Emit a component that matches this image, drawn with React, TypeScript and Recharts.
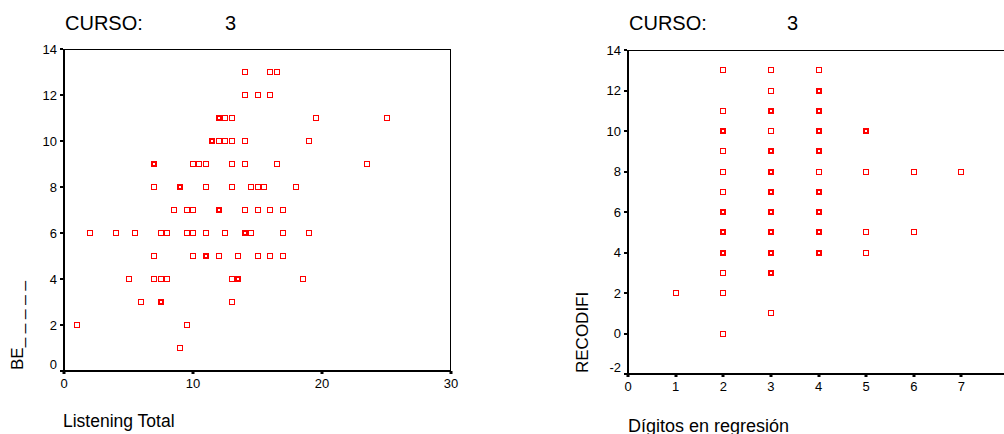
import { Scatter, ScatterChart, XAxis, YAxis } from "recharts"

// left panel: Listening Total vs BE (repeated pairs = overlapping cases)
const listeningTotal = [
  14, 16, 16.5,
  14, 15, 16,
  12, 12, 12.5, 13, 19.5, 25,
  11.5, 11.5, 12, 12.5, 13, 14, 19,
  7, 7, 10, 10.5, 11, 13, 14, 16.5, 23.5,
  7, 9, 9, 11, 13, 14.5, 15, 15.5, 18,
  8.5, 9.5, 10, 12, 12, 14, 15, 16, 17,
  2, 4, 5.5, 7.5, 8, 9.5, 10, 11, 12.5, 14, 14, 14.5, 17, 19,
  7, 10, 11, 11, 12, 13.5, 15, 16, 17,
  5, 7, 7.5, 8, 13, 13.5, 13.5, 18.5,
  6, 7.5, 7.5, 13,
  1, 9.5,
  9,
]
const beScore = [
  13, 13, 13,
  12, 12, 12,
  11, 11, 11, 11, 11, 11,
  10, 10, 10, 10, 10, 10, 10,
  9, 9, 9, 9, 9, 9, 9, 9, 9,
  8, 8, 8, 8, 8, 8, 8, 8, 8,
  7, 7, 7, 7, 7, 7, 7, 7, 7,
  6, 6, 6, 6, 6, 6, 6, 6, 6, 6, 6, 6, 6, 6,
  5, 5, 5, 5, 5, 5, 5, 5, 5,
  4, 4, 4, 4, 4, 4, 4, 4,
  3, 3, 3, 3,
  2, 2,
  1,
]

// right panel: Dígitos en regresión vs RECODIFI
const digitos = [
  1,
  2, 2, 2, 2, 2, 2, 2, 2, 2, 2, 2, 2, 2, 2, 2, 2,
  3, 3, 3, 3, 3, 3, 3, 3, 3, 3, 3, 3, 3, 3, 3, 3, 3, 3, 3, 3,
  4, 4, 4, 4, 4, 4, 4, 4, 4, 4, 4, 4, 4, 4, 4, 4, 4, 4,
  5, 5, 5, 5, 5,
  6, 6,
  7,
]
const recodifi = [
  2,
  13, 11, 10, 10, 9, 8, 7, 6, 6, 5, 5, 4, 4, 3, 2, 0,
  13, 12, 11, 11, 10, 9, 9, 8, 8, 7, 7, 6, 6, 5, 5, 4, 4, 3, 3, 1,
  13, 12, 12, 11, 11, 10, 10, 9, 9, 8, 7, 7, 6, 6, 5, 5, 4, 4,
  10, 10, 8, 5, 4,
  8, 5,
  8,
]

const leftXTicks = [0, 10, 20, 30]
const leftYTicks = [0, 2, 4, 6, 8, 10, 12, 14]
const rightXTicks = [0, 1, 2, 3, 4, 5, 6, 7, 8]
const rightYTicks = [-2, 0, 2, 4, 6, 8, 10, 12, 14]

const FONT = "'Liberation Sans', Arial, sans-serif"
const TICK_SIZE = 3
const X_MARGIN = 5
const Y_MARGIN = 4

function toPoints(xs: number[], ys: number[]) {
  const map = new Map<string, { x: number; y: number; n: number }>()
  xs.forEach((x, i) => {
    const key = x + "|" + ys[i]
    const p = map.get(key)
    if (p) p.n += 1
    else map.set(key, { x, y: ys[i], n: 1 })
  })
  return Array.from(map.values())
}

const leftPoints = toPoints(listeningTotal, beScore)
const rightPoints = toPoints(digitos, recodifi)

function Square(props: any) {
  const { cx, cy, payload } = props
  if (cx == null || cy == null) return null
  const x = Math.round(cx)
  const y = Math.round(cy)
  if (payload && payload.n > 1) {
    return <rect x={x - 2} y={y - 2} width={4} height={4} fill="#fff" stroke="#ff0000" strokeWidth={2} />
  }
  return <rect x={x - 2.5} y={y - 2.5} width={5} height={5} fill="#fff" stroke="#ff0000" strokeWidth={1} />
}

// tick label + small square tick mark (label position comes from the axis)
function XTick(props: any) {
  const { x, y, payload } = props
  const axisY = y - TICK_SIZE - X_MARGIN
  return (
    <g>
      <rect x={Math.round(x) - 1.5} y={axisY} width={3} height={3} fill="#000" />
      <text x={x} y={y} dy="0.71em" textAnchor="middle" fill="#000" fontSize={13} fontFamily={FONT}>
        {payload.value}
      </text>
    </g>
  )
}

function YTick(props: any) {
  const { x, y, payload, min } = props
  const axisX = x + TICK_SIZE + Y_MARGIN
  const shift = payload.value === min ? -7 : 0
  return (
    <g>
      <rect x={axisX - 4} y={Math.round(y) - 1} width={3} height={2} fill="#000" />
      <text x={x} y={y + shift} dy="0.355em" textAnchor="end" fill="#000" fontSize={13} fontFamily={FONT}>
        {payload.value}
      </text>
    </g>
  )
}

function Panel({ points, xTicks, yTicks, xMax, yMin, yMax, margin }: any) {
  return (
    <ScatterChart width={480} height={434} margin={margin}>
      <XAxis
        type="number"
        dataKey="x"
        domain={[0, xMax]}
        ticks={xTicks}
        interval={0}
        allowDataOverflow
        height={30}
        tickSize={TICK_SIZE}
        tickMargin={X_MARGIN}
        axisLine={false}
        tickLine={{ stroke: "none" }}
        tick={<XTick />}
      />
      <YAxis
        type="number"
        dataKey="y"
        domain={[yMin, yMax]}
        ticks={yTicks}
        interval={0}
        allowDataOverflow
        width={40}
        tickSize={TICK_SIZE}
        tickMargin={Y_MARGIN}
        axisLine={false}
        tickLine={{ stroke: "none" }}
        tick={<YTick min={yMin} />}
      />
      <Scatter data={points} isAnimationActive={false} shape={(p: any) => <Square {...p} />} />
    </ScatterChart>
  )
}

const text = (left: number, top: number, size: number, extra: any = {}) => ({
  position: "absolute" as const,
  left,
  top,
  fontSize: size,
  lineHeight: `${size}px`,
  fontFamily: FONT,
  color: "#000",
  whiteSpace: "nowrap" as const,
  ...extra,
})

const rotated = { transform: "rotate(-90deg)", transformOrigin: "0 0" }

const frame = (left: number, top: number, width: number, height: number) => ({
  position: "absolute" as const,
  left,
  top,
  width,
  height,
  boxSizing: "border-box" as const,
  borderLeft: "2px solid #000",
  borderBottom: "2px solid #000",
  borderTop: "1px solid #000",
  borderRight: "1px solid #000",
  pointerEvents: "none" as const,
})

export default function App() {
  return (
    <div style={{ position: "absolute", left: 0, top: 0, width: 1004, height: 434, overflow: "hidden" }}>
      <div style={{ position: "absolute", left: 0, top: 0 }}>
        <Panel
          points={leftPoints}
          xTicks={leftXTicks}
          yTicks={leftYTicks}
          xMax={30}
          yMin={0}
          yMax={14}
          margin={{ top: 49, right: 29, bottom: 33, left: 24 }}
        />
      </div>
      <div style={{ position: "absolute", left: 540, top: 0 }}>
        <Panel
          points={rightPoints}
          xTicks={rightXTicks}
          yTicks={rightYTicks}
          xMax={8}
          yMin={-2}
          yMax={14}
          margin={{ top: 50, right: 11, bottom: 30, left: 48 }}
        />
      </div>
      <div style={frame(63, 49, 388, 323)} />
      <div style={frame(627, 50, 382, 325)} />
      <div style={text(65, 12.6, 20)}>CURSO:</div>
      <div style={text(225, 12.6, 20)}>3</div>
      <div style={text(629, 12.6, 20)}>CURSO:</div>
      <div style={text(787, 12.6, 20)}>3</div>
      <div style={text(63, 413.2, 17.5)}>Listening Total</div>
      <div style={text(628, 416.8, 18)}>Dígitos en regresión</div>
      <div style={text(8.6, 370, 17, rotated)}>BE_ _ _ _ _</div>
      <div style={text(573.6, 373, 17, rotated)}>RECODIFI</div>
    </div>
  )
}
